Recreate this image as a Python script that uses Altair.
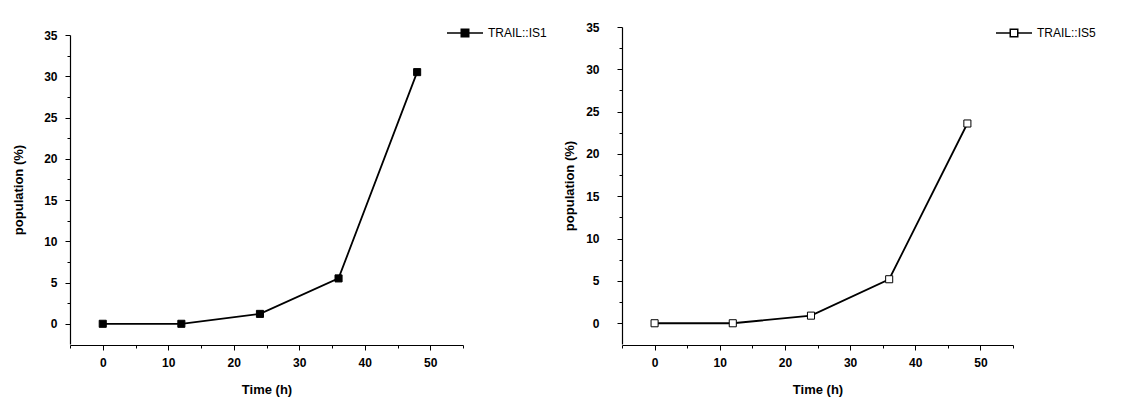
import altair as alt
import pandas as pd

time_h = [0, 12, 24, 36, 48]
is1_pop = [0.0, 0.0, 1.2, 5.5, 30.5]
is5_pop = [0.0, 0.0, 0.9, 5.2, 23.6]
series_names = ["TRAIL::IS1", "TRAIL::IS5"]
x_tick_vals = [-5, 0, 5, 10, 15, 20, 25, 30, 35, 40, 45, 50, 55]
y_tick_vals = [0, 2.5, 5, 7.5, 10, 12.5, 15, 17.5, 20, 22.5, 25, 27.5, 30, 32.5, 35]

FONT = "Liberation Sans"
PANEL_H = 318


def make_panel(values, name, fill_color, w, y_top, leg_x, leg_y, y_title_pad, y_label_pad):
    df = pd.DataFrame({"t": time_h, "p": values, "series": name})
    x = alt.X(
        "t:Q",
        scale=alt.Scale(domain=[-5, 55], nice=False, zero=False),
        axis=alt.Axis(
            title="Time (h)",
            grid=False,
            values=x_tick_vals,
            labelExpr="datum.value % 10 == 0 ? datum.label : ''",
            tickSize={"condition": {"test": "datum.value % 10 == 0", "value": 5}, "value": 3},
            labelPadding=7,
            titlePadding=15,
        ),
    )
    y = alt.Y(
        "p:Q",
        scale=alt.Scale(domain=[-2.45, 35], nice=False, zero=False, range=[PANEL_H - 1, y_top]),
        axis=alt.Axis(
            title="population (%)",
            grid=False,
            values=y_tick_vals,
            labelExpr="datum.value % 5 == 0 ? datum.label : ''",
            tickSize={"condition": {"test": "datum.value % 5 == 0", "value": 5}, "value": 3},
            labelPadding=y_label_pad,
            titlePadding=y_title_pad,
        ),
    )
    base = alt.Chart(df)
    line = base.mark_line(color="black", strokeWidth=1.8).encode(x=x, y=y)
    pts = base.mark_point(
        shape="square", filled=True, size=50, stroke="black", strokeWidth=1, opacity=1
    ).encode(
        x=x,
        y=y,
        fill=alt.Fill(
            "series:N",
            scale=alt.Scale(range=[fill_color]),
            legend=alt.Legend(
                title=None,
                orient="none",
                legendX=leg_x,
                legendY=leg_y,
                symbolType="M-3.6,0H-0.75M0.75,0H3.6M-0.75,-0.75H0.75V0.75H-0.75Z",
                symbolSize=100,
                symbolStrokeColor="black",
                symbolStrokeWidth=1.5,
                labelOffset=17,
                labelFontSize=12,
                labelFont=FONT,
                labelColor="black",
                padding=0,
            ),
        ),
    )
    return alt.layer(line, pts).properties(width=w, height=PANEL_H)


left = make_panel(is1_pop, series_names[0], "black", 393, 8, 389, 0, 18, 8)
right = make_panel(is5_pop, series_names[1], "white", 391, 0, 386, 0, 9, 18)

chart = (
    alt.hconcat(left, right, spacing=16)
    .resolve_scale(fill="independent")
    .resolve_legend(fill="independent")
    .properties(padding={"left": 12, "top": 21, "right": 5, "bottom": 5}, background="white")
    .configure_view(stroke=None)
    .configure_axis(
        domainColor="black",
        domainWidth=1.2,
        tickColor="black",
        tickWidth=1,
        grid=False,
        labelFont=FONT,
        labelFontSize=12,
        labelFontWeight="bold",
        labelColor="black",
        titleFont=FONT,
        titleFontSize=13,
        titleFontWeight="bold",
        titleColor="black",
    )
)

chart.save("out.html", embed_options={"renderer": "svg", "actions": False})
